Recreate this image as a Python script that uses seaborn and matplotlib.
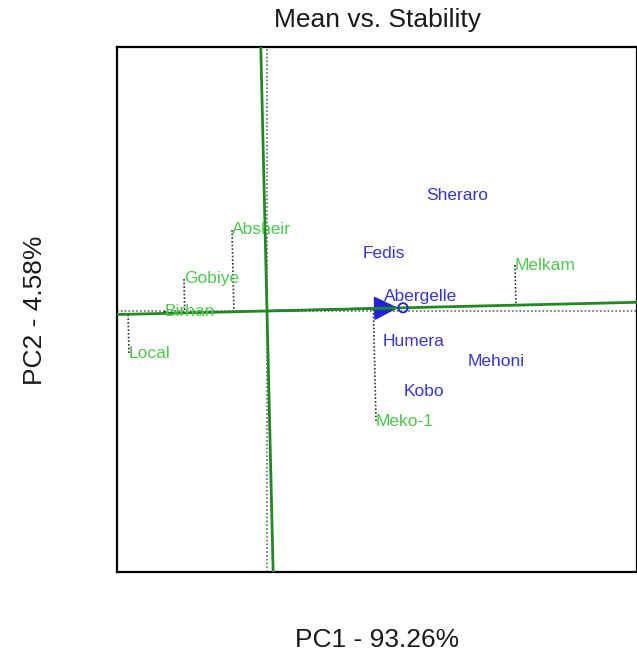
import numpy as np
import pandas as pd
import matplotlib
matplotlib.use("Agg")
import matplotlib.pyplot as plt
import seaborn as sns
from matplotlib.patches import FancyArrowPatch

# ---- data (biplot coordinates) ----
genotypes = ["Absheir", "Gobiye", "Birhan", "Local", "Melkam", "Meko-1"]
gen_pc1 = [-0.875, -2.075, -2.55, -3.45, 6.20, 2.725]
gen_pc2 = [2.025, 0.80, 0.0, -1.05, 1.15, -2.75]

environments = ["Sheraro", "Fedis", "Abergelle", "Humera", "Mehoni", "Kobo"]
env_pc1 = [4.75, 2.925, 3.85, 3.675, 5.725, 3.925]
env_pc2 = [2.875, 1.45, 0.375, -0.775, -1.25, -2.0]

aec_pc1 = [3.4]
aec_pc2 = [0.08]

title = "Mean vs. Stability"
xlabel = "PC1 - 93.26%"
ylabel = "PC2 - 4.58%"

# ---- style ----
sns.set_style("white")
plt.rcParams['font.family'] = ['Liberation Sans', 'DejaVu Sans']

W, H = 637, 659
fig = plt.figure(figsize=(W / 100, H / 100), dpi=100)
ax = fig.add_axes([117 / W, 1 - 572 / H, 520 / W, 525 / H])

xlim = (-3.75, 9.25)
ylim = (-6.525, 6.6)
ax.set_xlim(*xlim)
ax.set_ylim(*ylim)

GREEN_LINE = "#1f8a1f"
GREEN_TXT = "#4cc84c"
BLUE_TXT = "#3535dc"

# zero axes (dotted)
ax.axhline(0, color="#666666", ls=(0, (1, 1.3)), lw=1.2, zorder=1)
ax.axvline(0, color="#666666", ls=(0, (1, 1.3)), lw=1.2, zorder=1)

# ATC abscissa and ordinate
d = np.array([aec_pc1[0], aec_pc2[0]])
d = d / np.linalg.norm(d)
t = np.array([-20, 20])
abs_df = pd.DataFrame({"x": t * d[0], "y": t * d[1]})
ord_df = pd.DataFrame({"x": -t * d[1], "y": t * d[0]})
sns.lineplot(data=abs_df, x="x", y="y", color=GREEN_LINE, lw=2, ax=ax, zorder=4, sort=False)
sns.lineplot(data=ord_df, x="x", y="y", color=GREEN_LINE, lw=2, ax=ax, zorder=4, sort=False)

# projections of genotypes onto ATC abscissa
for gx, gy in zip(gen_pc1, gen_pc2):
    p = np.array([gx, gy])
    foot = np.dot(p, d) * d
    ax.plot([gx, foot[0]], [gy, foot[1]], color="#333333", ls=(0, (1, 1.2)), lw=1.2, zorder=2)

# average environment arrow + circle
arrow = FancyArrowPatch((0, 0), (aec_pc1[0] - 0.12, aec_pc2[0]),
                        arrowstyle="-|>,head_length=0.5,head_width=0.25", mutation_scale=30,
                        color="#2222dd", lw=1.5, zorder=3, shrinkA=0, shrinkB=0)
ax.add_patch(arrow)
sns.scatterplot(x=aec_pc1, y=aec_pc2, s=45, facecolor="none", edgecolor="#2222dd",
                linewidth=1.3, ax=ax, zorder=5)

# labels
for name, x, y in zip(genotypes, gen_pc1, gen_pc2):
    ax.text(x, y, name, color=GREEN_TXT, fontsize=12.5, ha="left", va="center", zorder=6)
for name, x, y in zip(environments, env_pc1, env_pc2):
    ax.text(x, y, name, color=BLUE_TXT, fontsize=12.5, ha="center", va="center", zorder=6)

ax.set_xticks([])
ax.set_yticks([])
ax.set_xlabel("")
ax.set_ylabel("")
for s in ax.spines.values():
    s.set_visible(True)
    s.set_color("black")
    s.set_linewidth(1.6)

fig.text(377 / W, 1 - 20 / H, title, ha="center", va="center", fontsize=19, color="#1a1a1a")
fig.text(377 / W, 1 - 640 / H, xlabel, ha="center", va="center", fontsize=19, color="#1a1a1a")
fig.text(35 / W, 1 - 310 / H, ylabel, ha="center", va="center", fontsize=19, rotation=90,
         color="#1a1a1a")

fig.savefig("out.png", dpi=100, facecolor="white")
